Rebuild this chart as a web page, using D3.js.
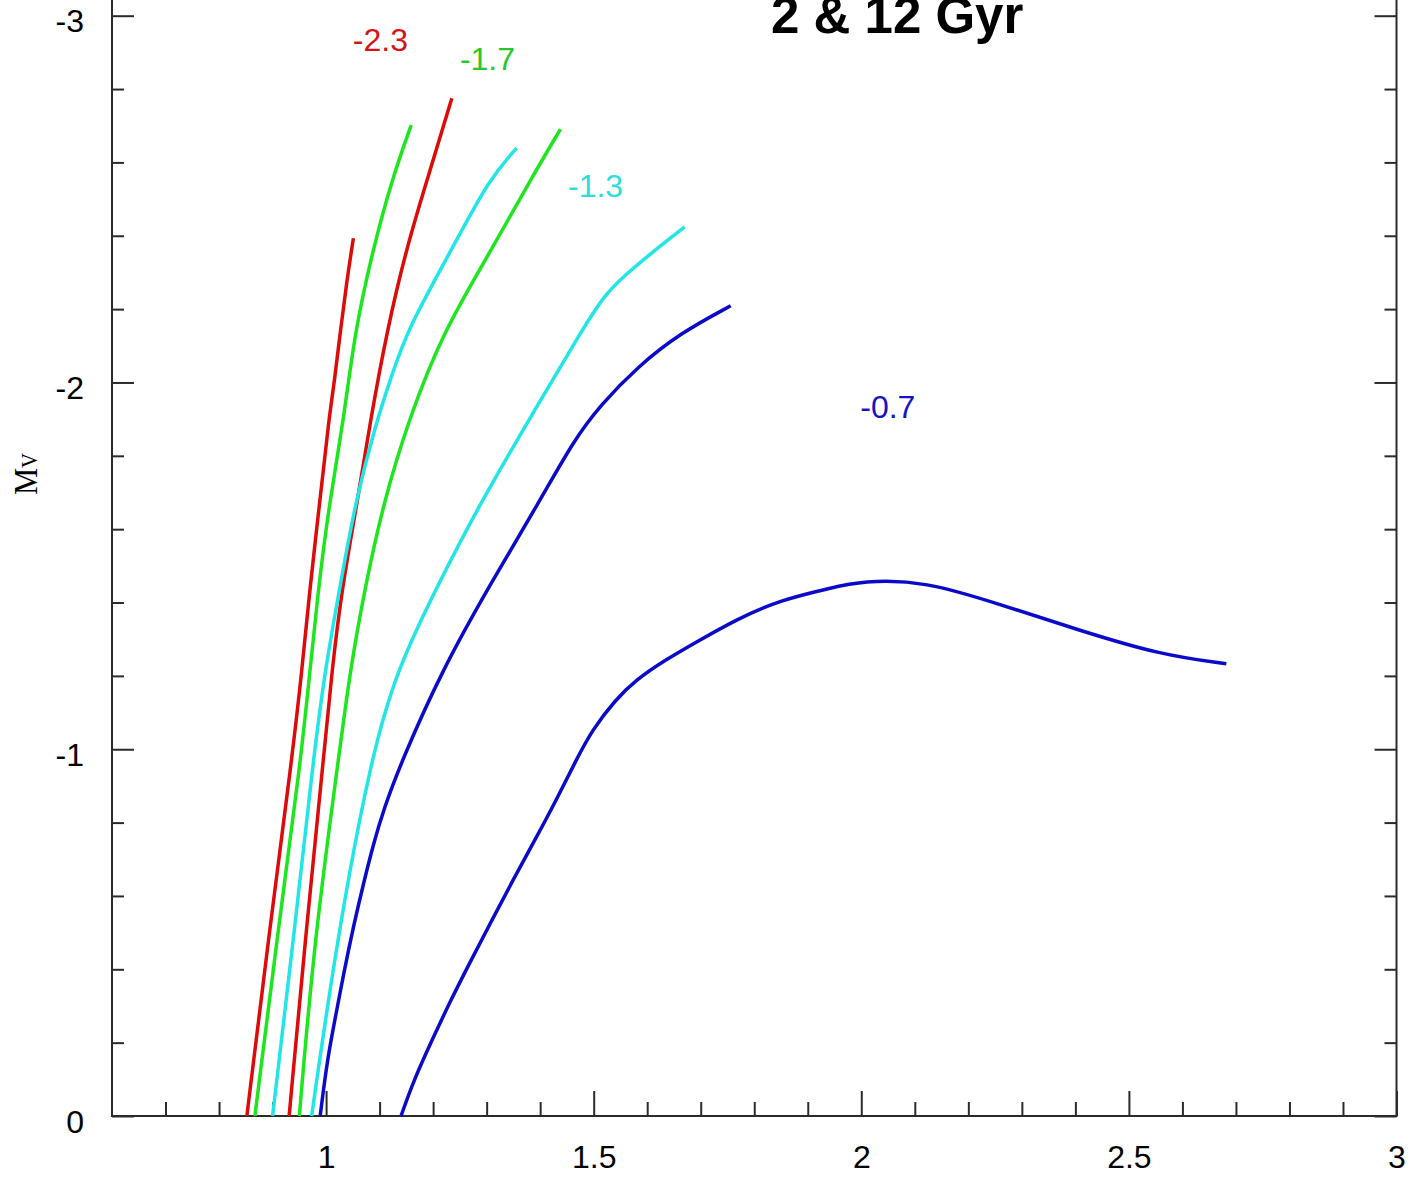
<!DOCTYPE html>
<html>
<head>
<meta charset="utf-8">
<script src="https://cdn.jsdelivr.net/npm/d3@7"></script>
<style>
  html, body { margin: 0; padding: 0; background: #fff; }
  svg { display: block; }
</style>
</head>
<body>
<svg id="chart" width="1413" height="1183"></svg>
<script>
// ---------- DATA (colour index vs M_V) ----------
// [Fe/H] = -2.3
const feh23_2gyr_col  = [0.852, 0.892, 0.936, 0.955, 0.970, 0.988, 1.005, 1.016, 1.027, 1.039, 1.051];
const feh23_2gyr_mv   = [0.000, -0.480, -0.971, -1.216, -1.443, -1.671, -1.898, -2.007, -2.143, -2.280, -2.393];
const feh23_12gyr_col = [0.931, 0.961, 0.995, 1.011, 1.030, 1.058, 1.083, 1.114, 1.151, 1.189, 1.235];
const feh23_12gyr_mv  = [0.000, -0.480, -0.971, -1.216, -1.443, -1.671, -1.898, -2.143, -2.371, -2.553, -2.775];
// [Fe/H] = -1.7
const feh17_2gyr_col  = [0.867, 0.908, 0.953, 0.970, 0.986, 1.006, 1.033, 1.054, 1.089, 1.123, 1.159];
const feh17_2gyr_mv   = [0.000, -0.480, -0.971, -1.216, -1.443, -1.671, -1.898, -2.143, -2.371, -2.553, -2.702];
const feh17_12gyr_col = [0.950, 0.978, 1.023, 1.045, 1.073, 1.107, 1.154, 1.220, 1.313, 1.382, 1.438];
const feh17_12gyr_mv  = [0.000, -0.480, -0.971, -1.216, -1.443, -1.671, -1.898, -2.143, -2.371, -2.553, -2.691];
// [Fe/H] = -1.3
const feh13_2gyr_col  = [0.900, 0.939, 0.976, 0.998, 1.026, 1.054, 1.095, 1.120, 1.151, 1.238, 1.304, 1.356];
const feh13_2gyr_mv   = [0.000, -0.480, -0.971, -1.216, -1.443, -1.671, -1.898, -2.007, -2.143, -2.371, -2.553, -2.639];
const feh13_12gyr_col = [0.973, 1.020, 1.083, 1.132, 1.207, 1.288, 1.379, 1.475, 1.520, 1.559, 1.606, 1.670];
const feh13_12gyr_mv  = [0.000, -0.480, -0.971, -1.216, -1.443, -1.671, -1.898, -2.135, -2.239, -2.293, -2.351, -2.424];
// [Fe/H] = -0.7
const feh07_2gyr_col  = [0.989, 1.002, 1.020, 1.033, 1.051, 1.070, 1.089, 1.107, 1.142, 1.217, 1.304, 1.397, 1.463, 1.513, 1.582, 1.662, 1.756];
const feh07_2gyr_mv   = [0.000, -0.153, -0.289, -0.389, -0.516, -0.635, -0.744, -0.834, -0.971, -1.216, -1.443, -1.671, -1.843, -1.939, -2.043, -2.135, -2.209];
const feh07_12gyr_col = [1.140, 1.164, 1.198, 1.233, 1.271, 1.310, 1.349, 1.390, 1.430, 1.467, 1.497, 1.540, 1.579, 1.633, 1.699, 1.764, 1.848, 1.942, 2.001, 2.119, 2.261, 2.410, 2.560, 2.682];
const feh07_12gyr_mv  = [0.000, -0.098, -0.207, -0.316, -0.425, -0.534, -0.643, -0.752, -0.861, -0.970, -1.052, -1.134, -1.189, -1.243, -1.298, -1.352, -1.407, -1.439, -1.459, -1.459, -1.394, -1.323, -1.257, -1.233];

const metallicityLabels = ["-2.3", "-1.7", "-1.3", "-0.7"];

// tick values and labels
const xTicksMajor = [1, 1.5, 2, 2.5, 3];
const xTickLabels = ["1", "1.5", "2", "2.5", "3"];
const xTicksMinor = [0.7, 0.8, 0.9, 1.1, 1.2, 1.3, 1.4, 1.6, 1.7, 1.8, 1.9, 2.1, 2.2, 2.3, 2.4, 2.6, 2.7, 2.8, 2.9];
const yTicksMajor = [0, -1, -2, -3];
const yTickLabels = ["0", "-1", "-2", "-3"];
const yTicksMinor = [-0.2, -0.4, -0.6, -0.8, -1.2, -1.4, -1.6, -1.8, -2.2, -2.4, -2.6, -2.8];

const titleText = "2 & 12 Gyr";

// ---------- styling ----------
const colors = ["#dd0a0a", "#1ee61e", "#22e6e6", "#0a0ac8"];
const labelColors = ["#d41414", "#28c828", "#2edcdc", "#1414c0"];

const svg = d3.select("#chart");
const left = 112, right = 1396.5, bottom = 1116, yTopTick = 15.7;

const x = d3.scaleLinear().domain([0.6, 3]).range([left, right]);
const y = d3.scaleLinear().domain([0, -3]).range([bottom, yTopTick]);

const series = [
  {c: 0, col: feh23_2gyr_col,  mv: feh23_2gyr_mv},
  {c: 0, col: feh23_12gyr_col, mv: feh23_12gyr_mv},
  {c: 1, col: feh17_2gyr_col,  mv: feh17_2gyr_mv},
  {c: 1, col: feh17_12gyr_col, mv: feh17_12gyr_mv},
  {c: 2, col: feh13_2gyr_col,  mv: feh13_2gyr_mv},
  {c: 2, col: feh13_12gyr_col, mv: feh13_12gyr_mv},
  {c: 3, col: feh07_2gyr_col,  mv: feh07_2gyr_mv},
  {c: 3, col: feh07_12gyr_col, mv: feh07_12gyr_mv}
];

const axisColor = "#2a2a2a";
const font = "'Liberation Sans', Arial, Helvetica, sans-serif";

// frame
svg.append("path")
  .attr("d", `M${left},-5 L${left},${bottom} L${right},${bottom} L${right},-5`)
  .attr("fill", "none").attr("stroke", axisColor).attr("stroke-width", 2);

function styleAxis(g) {
  g.select(".domain").remove();
  g.selectAll(".tick line").attr("stroke", axisColor).attr("stroke-width", 2);
  g.selectAll(".tick text").attr("fill", "#000").style("font-family", font).style("font-size", "32px");
}

// bottom axis major
svg.append("g").attr("transform", `translate(0,${bottom})`)
  .call(d3.axisBottom(x).tickValues(xTicksMajor).tickFormat((d, i) => xTickLabels[i])
        .tickSizeInner(-25).tickSizeOuter(0).tickPadding(29))
  .call(styleAxis);
// bottom axis minor
svg.append("g").attr("transform", `translate(0,${bottom})`)
  .call(d3.axisBottom(x).tickValues(xTicksMinor).tickFormat("").tickSizeInner(-14).tickSizeOuter(0))
  .call(styleAxis);

// left axis major
const gl = svg.append("g").attr("transform", `translate(${left},0)`)
  .call(d3.axisLeft(y).tickValues(yTicksMajor).tickFormat((d, i) => yTickLabels[i])
        .tickSizeInner(-22).tickSizeOuter(0).tickPadding(28))
  .call(styleAxis);
gl.selectAll(".tick text").attr("dy", "0.5em");
// left axis minor
svg.append("g").attr("transform", `translate(${left},0)`)
  .call(d3.axisLeft(y).tickValues(yTicksMinor).tickFormat("").tickSizeInner(-12).tickSizeOuter(0))
  .call(styleAxis);

// right axis major/minor (no labels)
svg.append("g").attr("transform", `translate(${right},0)`)
  .call(d3.axisRight(y).tickValues(yTicksMajor).tickFormat("").tickSizeInner(-22).tickSizeOuter(0))
  .call(styleAxis);
svg.append("g").attr("transform", `translate(${right},0)`)
  .call(d3.axisRight(y).tickValues(yTicksMinor).tickFormat("").tickSizeInner(-12).tickSizeOuter(0))
  .call(styleAxis);

// curves
const line = d3.line()
  .x(d => x(d[0])).y(d => y(d[1]))
  .curve(d3.curveBasis);

svg.append("g").selectAll("path")
  .data(series)
  .join("path")
  .attr("d", s => line(s.col.map((v, i) => [v, s.mv[i]])))
  .attr("fill", "none")
  .attr("stroke", s => colors[s.c])
  .attr("stroke-width", 3.5)
  .attr("stroke-linejoin", "round")
  .attr("stroke-linecap", "butt");

// metallicity labels (data-space anchor positions)
const labelAnchors = [[1.050, -2.904], [1.250, -2.852], [1.452, -2.506], [1.998, -1.903]];
svg.append("g").selectAll("text")
  .data(metallicityLabels)
  .join("text")
  .attr("x", (d, i) => x(labelAnchors[i][0]))
  .attr("y", (d, i) => y(labelAnchors[i][1]))
  .attr("fill", (d, i) => labelColors[i])
  .style("font-family", font)
  .style("font-size", "32px")
  .text(d => d);

// title
svg.append("text")
  .attr("x", x(2.067)).attr("y", 33)
  .attr("text-anchor", "middle")
  .style("font-family", font)
  .style("font-size", "51px")
  .style("font-weight", "bold")
  .attr("fill", "#000")
  .text(titleText);

// y axis title M_V
const yt = svg.append("text")
  .attr("transform", "translate(36.5,495) rotate(-90)")
  .style("font-family", "'Liberation Serif', 'Times New Roman', serif")
  .attr("fill", "#000")
  .attr("textLength", 42)
  .attr("lengthAdjust", "spacingAndGlyphs");
yt.append("tspan").style("font-size", "34px").text("M");
yt.append("tspan").style("font-size", "23px").text("V");
</script>
</body>
</html>
